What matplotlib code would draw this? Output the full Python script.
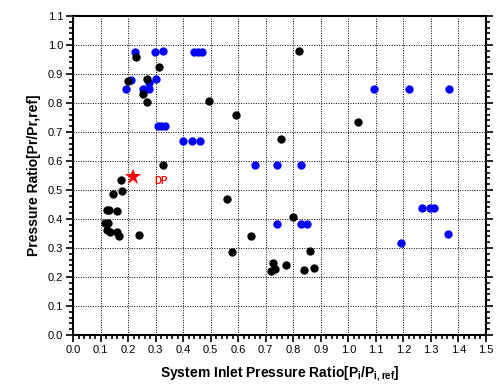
import matplotlib
matplotlib.use("Agg")
import matplotlib.pyplot as plt
from matplotlib.ticker import MultipleLocator

plt.rcParams["font.family"] = ["Liberation Sans", "DejaVu Sans"]

# black points
black_x = [0.229, 0.201, 0.311, 0.270, 0.253, 0.269, 0.495, 0.592, 0.820, 1.034,
           0.755, 0.326, 0.173, 0.178, 0.145, 0.560, 0.125, 0.132, 0.159, 0.115,
           0.128, 0.122, 0.134, 0.161, 0.167, 0.241, 0.578, 0.645, 0.800, 0.861,
           0.728, 0.718, 0.733, 0.775, 0.839, 0.875]
black_y = [0.960, 0.877, 0.925, 0.884, 0.830, 0.802, 0.808, 0.760, 0.979, 0.734,
           0.676, 0.586, 0.533, 0.497, 0.485, 0.470, 0.431, 0.432, 0.428, 0.387,
           0.385, 0.362, 0.355, 0.354, 0.341, 0.345, 0.286, 0.341, 0.408, 0.291,
           0.249, 0.222, 0.227, 0.241, 0.223, 0.230]

# blue points
blue_x = [0.225, 0.298, 0.328, 0.441, 0.455, 0.470, 0.210, 0.301, 0.191, 0.253,
          0.276, 0.275, 0.310, 0.320, 0.333, 0.400, 0.431, 0.461, 1.092, 1.221,
          1.365, 0.662, 0.740, 0.828, 0.742, 0.827, 0.851, 1.268, 1.298, 1.310,
          1.362, 1.193]
blue_y = [0.975, 0.975, 0.979, 0.975, 0.976, 0.975, 0.879, 0.882, 0.847, 0.848,
          0.850, 0.870, 0.722, 0.720, 0.722, 0.668, 0.668, 0.668, 0.847, 0.847,
          0.847, 0.585, 0.585, 0.585, 0.383, 0.383, 0.383, 0.437, 0.437, 0.437,
          0.349, 0.316]

# design point
dp_x = [0.217]
dp_y = [0.544]

fig = plt.figure(figsize=(5.01, 3.84), dpi=100)
ax = fig.add_axes([0.1457, 0.1276, 0.8243, 0.8307])

ax.plot(blue_x, blue_y, "o", color="#0000ff", markersize=6, markeredgewidth=0, zorder=3)
ax.plot(black_x, black_y, "o", color="black", markersize=6, markeredgewidth=0, zorder=4)
ax.plot(dp_x, dp_y, "*", color="red", markersize=12, markeredgewidth=0, zorder=5)
ax.text(dp_x[0] + 0.08, dp_y[0] - 0.012, "DP", color="red", fontsize=7,
        fontweight="bold", va="center", ha="left")

ax.set_xlim(0, 1.5)
ax.set_ylim(0, 1.1)
ax.xaxis.set_major_locator(MultipleLocator(0.1))
ax.xaxis.set_minor_locator(MultipleLocator(0.02))
ax.yaxis.set_major_locator(MultipleLocator(0.1))
ax.yaxis.set_minor_locator(MultipleLocator(0.02))
ax.xaxis.set_major_formatter(plt.FuncFormatter(lambda v, p: f"{v:.1f}"))
ax.yaxis.set_major_formatter(plt.FuncFormatter(lambda v, p: f"{v:.1f}"))

ax.grid(True, which="major", color="black", linestyle=(0, (1, 1.5)), linewidth=0.7)
ax.tick_params(which="both", direction="out", right=True, top=False,
               labelsize=8, width=1.2, pad=2)
ax.tick_params(which="major", length=5)
ax.tick_params(which="minor", length=3)
for s in ax.spines.values():
    s.set_linewidth(1.5)

ax.set_xlabel(r"System Inlet Pressure Ratio[P$_\mathregular{i}$/P$_\mathregular{i,ref}$]",
              fontsize=10, fontweight="bold", labelpad=7)
ax.set_ylabel("Pressure Ratio[Pr/Pr,ref]", fontsize=10, fontweight="bold", labelpad=5)

fig.savefig("out.png", dpi=100)
